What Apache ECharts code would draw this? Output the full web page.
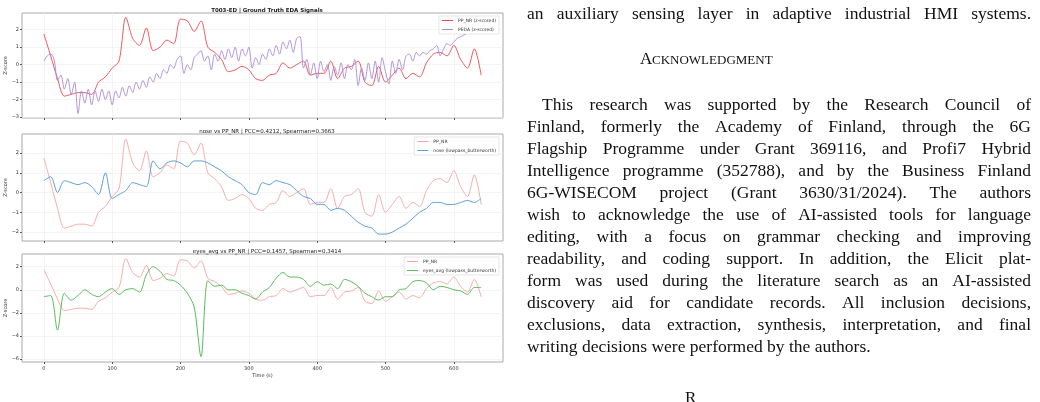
<!DOCTYPE html>
<html>
<head>
<meta charset="utf-8">
<script src="https://cdn.jsdelivr.net/npm/echarts@6/dist/echarts.min.js"></script>
<style>
  html, body { margin: 0; padding: 0; background: #fff; }
  #main { width: 1040px; height: 402px; }
</style>
</head>
<body>
<div id="main"></div>
<script>
// PP_NR, nose and eyes_avg sampled every 10 s (0..640)
const ppNr = [1.75, 0.5, -0.8, -1.8, -1.7, -1.6, -1.6, -1.7, -1.0, -0.7, -0.2, 0.2, 2.7, 1.5, 1.1, 2.1, 0.8, 1.0, 1.4, 1.2,
  2.6, 2.5, 1.9, 2.5, 1.0, 0.7, 0.3, -0.4, -0.3, -0.1, -0.3, -0.8, -0.9, -0.6, -0.5, 0.1, -0.2, 0.0, 0.2, -0.6,
  -0.5, -0.5, 0.2, -0.8, -0.2, -0.1, 0.2, -1.0, -1.2, -0.1, -1.0, -0.6, -0.2, -0.8, -0.5, -0.7, 0.1, 0.6, 0.7, 0.5,
  1.1, 0.3, -0.2, 0.9, -0.6]
const nose = [0.6, 0.8, 0.0, 0.6, 0.5, 0.4, 0.5, 0.3, -0.1, 1.0, -0.3, -0.1, 0.1, 0.5, 0.4, 0.3, 1.6, 1.2, 1.5, 1.6,
  1.5, 1.3, 1.6, 1.6, 1.5, 1.3, 1.1, 0.8, 0.6, 0.4, 0.0, -0.1, 0.5, 0.4, 0.6, 0.5, 0.4, 0.1, -0.2, -0.3,
  -0.6, -0.6, -0.9, -0.8, -0.9, -1.2, -1.5, -1.7, -1.8, -2.1, -2.1, -2.0, -1.8, -1.6, -1.3, -1.0, -0.8, -0.5, -0.5, -0.6,
  -0.6, -0.5, -0.4, -0.5, -0.3]
const eyes = [-0.6, -0.5, -3.5, -0.3, -0.9, -0.5, 0.0, -0.4, -0.6, -0.2, 0.1, -0.4, 0.0, 0.1, -0.2, 1.3, 2.0, 1.6, 0.9, 0.8,
  0.4, -0.3, -1.5, -5.8, 0.8, 0.3, 0.4, 0.0, 0.0, -0.3, -0.5, -0.8, -0.2, 0.2, 1.0, 1.5, 1.1, 1.1, 0.9, 0.3,
  0.7, 0.4, 0.5, 0.1, 0.9, 0.7, 0.3, -0.3, -0.6, -0.9, -0.6, -0.6, 0.0, 0.1, 0.7, 0.8, 0.6, 0.0, 0.3, 0.2,
  0.0, -0.1, -0.4, 0.2, 0.2]
// PEDA sampled every 5 s (0..640)
const peda = [0.2, 0.5, 0.6, 0.3, -0.9, -0.6, -1.4, -0.8, -1.7, -1.0, -2.8, -1.5, -2.2, -1.4, -2.3, -1.5, -2.1, -1.4, -2.0, -1.5,
  -2.3, -1.5, -1.9, -1.3, -1.8, -1.2, -1.6, -1.0, -1.4, -0.9, -1.3, -0.7, -1.0, -0.5, -0.8, -0.3, -0.5, 0.0, -0.2, 0.3,
  0.5, -0.5, 0.0, -0.3, 0.4, 0.6, 0.8, 0.2, 0.5, -0.3, 0.6, 0.2, 0.8, 0.3, 0.9, 0.4, 1.0, 0.2, 0.9, 0.5,
  1.0, -0.2, 0.4, 0.0, 0.6, 0.3, 0.9, 0.5, 1.1, 0.6, 1.3, 0.9, 1.4, 0.7, 1.5, 1.6, -0.2, 0.3, -0.6, 0.1,
  -0.8, 0.2, -0.4, 0.0, -0.9, -0.1, -0.6, 0.1, -0.8, 0.0, -0.3, 0.3, -1.2, -0.2, -0.9, 0.1, -0.8, 0.2, -1.0, 0.4,
  -0.4, -1.1, 0.2, -0.5, 0.3, -0.3, 0.5, 0.6, 0.2, 0.7, 0.5, 0.7, 0.6, 0.8, 0.9, 1.1, 0.5, 0.9, 1.2, 1.1,
  1.3, 1.5, 1.6, 1.7, 1.8, 2.0, 2.1, 1.9, 1.9]
const xTicks = [0, 100, 200, 300, 400, 500, 600]
const titles = ['T003-ED | Ground Truth EDA Signals', 'nose vs PP_NR | PCC=0.4212, Spearman=0.3663', 'eyes_avg vs PP_NR | PCC=0.1457, Spearman=0.3414']
const yTicks = [[-3, -2, -1, 0, 1, 2], [-2, -1, 0, 1, 2], [-6, -4, -2, 0, 2]]
const yRanges = [[-3.05, 2.95], [-2.45, 2.96], [-6.26, 3.1]]

const textLines = [
  'an auxiliary sensing layer in adaptive industrial HMI systems.',
  'This research was supported by the Research Council of',
  'Finland, formerly the Academy of Finland, through the 6G',
  'Flagship Programme under Grant 369116, and Profi7 Hybrid',
  'Intelligence programme (352788), and by the Business Finland',
  '6G-WISECOM project (Grant 3630/31/2024). The authors',
  'wish to acknowledge the use of AI-assisted tools for language',
  'editing, with a focus on grammar checking and improving',
  'readability, and coding support. In addition, the Elicit plat-',
  'form was used during the literature search as an AI-assisted',
  'discovery aid for candidate records. All inclusion decisions,',
  'exclusions, data extraction, synthesis, interpretation, and final',
  'writing decisions were performed by the authors.'
]

const pairs10 = arr => arr.map((v, i) => [i * 10, v])
const pairs5 = arr => arr.map((v, i) => [i * 5, v])

const tops = [13, 134, 254]
const heights = [105, 107, 108]
const grid = tops.map((t, i) => ({ left: 22, width: 481, top: t, height: heights[i], show: true, borderColor: '#aaa', borderWidth: 1 }))
const xAxis = tops.map((t, i) => ({
  type: 'value', gridIndex: i, min: -32, max: 672,
  name: i === 2 ? 'Time (s)' : '', nameLocation: 'middle', nameGap: 11,
  nameTextStyle: { fontSize: 5, color: '#333', fontFamily: 'DejaVu Sans' },
  axisLine: { show: false, onZero: false },
  axisTick: { show: true, customValues: xTicks, length: 2, lineStyle: { color: '#555' } },
  axisLabel: { show: i === 2, customValues: xTicks, fontSize: 5, color: '#333', margin: 4, fontFamily: 'DejaVu Sans' },
  splitLine: { show: true, lineStyle: { color: '#ececec', width: 0.6 } }
}))
const yAxis = tops.map((t, i) => ({
  type: 'value', gridIndex: i, min: yRanges[i][0], max: yRanges[i][1],
  name: 'Z-score', nameLocation: 'middle', nameGap: 12,
  nameTextStyle: { fontSize: 5, color: '#333', fontFamily: 'DejaVu Sans' },
  axisLine: { show: false, onZero: false },
  axisTick: { show: true, customValues: yTicks[i], length: 2, lineStyle: { color: '#555' } },
  axisLabel: { customValues: yTicks[i], fontSize: 5, color: '#333', margin: 3, fontFamily: 'DejaVu Sans',
    formatter: v => (v < 0 ? '\u2212' + Math.abs(v) : '' + v) },
  splitLine: { show: true, lineStyle: { color: '#ececec', width: 0.6 } }
}))
const line = (name, data, idx, color, w) => ({
  name: name, type: 'line', xAxisIndex: idx, yAxisIndex: idx, data: data, showSymbol: false,
  smooth: 0.3, lineStyle: { color: color, width: w }, itemStyle: { color: color }
})
const series = [
  line('PP_NR (z-scored)', pairs10(ppNr), 0, '#e8474c', 0.9),
  line('PEDA (z-scored)', pairs5(peda), 0, '#a88bd6', 0.9),
  line('PP_NR', pairs10(ppNr), 1, '#f5a3a3', 0.9),
  line('nose (lowpass_butterworth)', pairs10(nose), 1, '#5b9fd6', 1),
  line('PP_NR ', pairs10(ppNr), 2, '#f5a3a3', 0.9),
  line('eyes_avg (lowpass_butterworth)', pairs10(eyes), 2, '#5cbb5c', 1)
]
const legends = [[series[0].name, series[1].name], [series[2].name, series[3].name], [series[4].name, series[5].name]]
const legend = legends.map((d, i) => ({
  data: d, orient: 'vertical', right: 541, top: tops[i] + 3, itemWidth: 11, itemHeight: 1, itemGap: 4,
  icon: 'rect', textStyle: { fontSize: 4.5, color: '#333', fontFamily: 'DejaVu Sans' },
  backgroundColor: '#fff', borderColor: '#ccc', borderWidth: 0.5, padding: [2, 3]
}))
const title = titles.map((t, i) => ({
  text: t, left: 262, textAlign: 'center', top: tops[i] - 10,
  textStyle: { fontSize: 5.5, fontWeight: i === 0 ? 'bold' : 'normal', color: '#222', fontFamily: 'DejaVu Sans' }
}))

// justified serif text on the right
const ctx = document.createElement('canvas').getContext('2d')
const font = '17.5px "Liberation Serif"'
ctx.font = font
const graphic = []
const lineY = [5, 96, 118, 140, 162, 184, 206, 228, 250, 272, 294, 316, 338]
const L = 527, R = 1031
textLines.forEach((s, i) => {
  const x0 = i === 1 ? 542 : L
  const last = i === textLines.length - 1
  if (last) {
    graphic.push({ type: 'text', left: x0, top: lineY[i], style: { text: s, font: font, fill: '#111' } })
    return
  }
  const words = s.split(' ')
  const wsum = words.reduce((a, w) => a + ctx.measureText(w).width, 0)
  const gap = (R - x0 - wsum) / (words.length - 1)
  let x = x0
  words.forEach(w => {
    graphic.push({ type: 'text', left: x, top: lineY[i], style: { text: w, font: font, fill: '#111' } })
    x += ctx.measureText(w).width + gap
  })
})
graphic.push({ type: 'text', left: 640, top: 51, style: { text: 'A', font: '17px "Liberation Serif"', fill: '#111' } })
graphic.push({ type: 'text', left: 652, top: 54, style: { text: 'CKNOWLEDGMENT', font: '13px "Liberation Serif"', fill: '#111' } })
graphic.push({ type: 'text', left: 685, top: 390, style: { text: 'R', font: '17px "Liberation Serif"', fill: '#111' } })

const chart = echarts.init(document.getElementById('main'), null, { renderer: 'canvas' })
chart.setOption({
  animation: false, backgroundColor: '#fff',
  title: title, legend: legend, grid: grid, xAxis: xAxis, yAxis: yAxis, series: series, graphic: graphic
})
</script>
</body>
</html>
